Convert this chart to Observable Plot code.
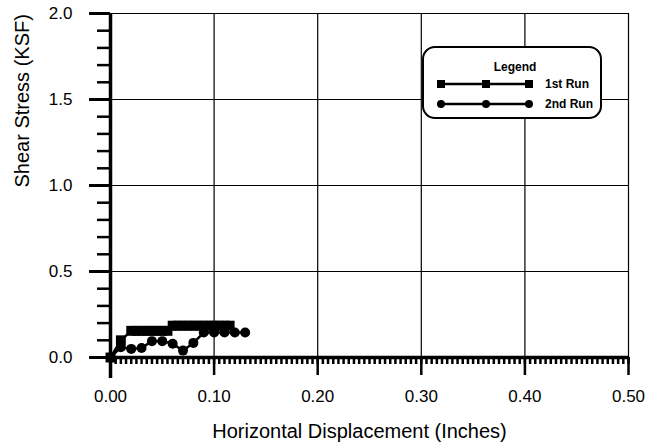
<!DOCTYPE html>
<html>
<head>
<meta charset="utf-8">
<script src="https://cdn.jsdelivr.net/npm/d3@7"></script>
<script src="https://cdn.jsdelivr.net/npm/@observablehq/plot@0.6"></script>
<style>
  html, body { margin: 0; padding: 0; background: #fff; }
  #wrap { position: relative; width: 646px; height: 447px; font-family: "Liberation Sans", Arial, sans-serif; }
  #legend { position: absolute; left: 422px; top: 46px; width: 176px; height: 69px;
            border: 2.5px solid #000; border-radius: 13px; background: #fff; box-sizing: content-box; }
</style>
</head>
<body>
<div id="wrap"><div id="legend"></div></div>
<script>
// Series: 1st Run (squares)
const run1X = [0, 0.01, 0.02, 0.025, 0.03, 0.035, 0.04, 0.045, 0.05, 0.055,
               0.06, 0.065, 0.07, 0.075, 0.08, 0.085, 0.09, 0.095, 0.10, 0.105, 0.11, 0.115];
const run1Y = [0, 0.10, 0.155, 0.155, 0.155, 0.155, 0.155, 0.155, 0.155, 0.155,
               0.185, 0.185, 0.185, 0.185, 0.185, 0.185, 0.185, 0.185, 0.185, 0.185, 0.185, 0.185];
// Series: 2nd Run (circles)
const run2X = [0, 0.01, 0.02, 0.03, 0.04, 0.05, 0.06, 0.07, 0.08, 0.09, 0.10, 0.11, 0.12, 0.13];
const run2Y = [0, 0.06, 0.05, 0.055, 0.095, 0.095, 0.08, 0.04, 0.085, 0.145, 0.145, 0.145, 0.145, 0.145];

const seriesNames = ["1st Run", "2nd Run"];
const xMajor = [0, 0.1, 0.2, 0.3, 0.4, 0.5];
const xMinor = d3.range(0, 101).map(i => i * 0.005);
const yMajor = [0, 0.5, 1.0, 1.5, 2.0];
const yMinor = d3.range(0, 21).map(i => i * 0.1);
const xTitle = "Horizontal Displacement (Inches)";
const yTitle = "Shear Stress (KSF)";
const legendTitle = "Legend";

const run1 = run1X.map((x, i) => ({x, y: run1Y[i]}));
const run2 = run2X.map((x, i) => ({x, y: run2Y[i]}));

const chart = Plot.plot({
  width: 646,
  height: 447,
  marginLeft: 110,
  marginRight: 18,
  marginTop: 13,
  marginBottom: 90,
  style: {fontFamily: "'Liberation Sans', Arial, sans-serif", color: "#000", background: "#fff"},
  x: {domain: [0, 0.5]},
  y: {domain: [0, 2]},
  marks: [
    Plot.gridX(xMajor.slice(1), {stroke: "#000", strokeOpacity: 1, strokeWidth: 1.2}),
    Plot.gridY(yMajor.slice(1), {stroke: "#000", strokeOpacity: 1, strokeWidth: 1.2}),
    Plot.axisY(yMinor, {tickSize: 13, text: null, strokeWidth: 2.5, label: null}),
    Plot.axisY(yMajor, {tickSize: 21, tickPadding: 17, fontSize: 17, tickFormat: d3.format(".1f"), strokeWidth: 3, label: null}),
    Plot.axisX(xMinor, {tickSize: 7, text: null, strokeWidth: 2.5, label: null}),
    Plot.axisX(xMajor, {tickSize: 18, tickPadding: 14, fontSize: 17, tickFormat: d3.format(".2f"), strokeWidth: 2.5, label: null}),
    Plot.ruleX([0], {insetBottom: -21, strokeWidth: 3.5}),
    Plot.ruleY([0], {strokeWidth: 3.5}),
    Plot.line(run1, {x: "x", y: "y", stroke: "#000", strokeWidth: 2.5}),
    Plot.dot(run1, {x: "x", y: "y", symbol: "square", r: 5.6, fill: "#000", stroke: null}),
    Plot.line(run2, {x: "x", y: "y", stroke: "#000", strokeWidth: 2.5}),
    Plot.dot(run2, {x: "x", y: "y", symbol: "circle", r: 5, fill: "#000", stroke: null}),
    Plot.text([xTitle], {frameAnchor: "bottom", dy: 80, dx: -10, fontSize: 20, fill: "#000"}),
    Plot.text([yTitle], {frameAnchor: "left", rotate: -90, dx: -88, dy: 2, fontSize: 20, fill: "#000"})
  ]
});
const wrap = document.getElementById("wrap");
wrap.insertBefore(chart, wrap.firstChild);

// Legend (overlaid on the plot area)
const lg = d3.select("#legend").append("svg").attr("width", 176).attr("height", 69)
  .style("font-family", "'Liberation Sans', Arial, sans-serif");
lg.append("text").attr("x", 91).attr("y", 23).attr("text-anchor", "middle")
  .attr("font-size", 12).attr("font-weight", "bold").text(legendTitle);
seriesNames.forEach((name, i) => {
  const yy = 36 + i * 20;
  lg.append("line").attr("x1", 15).attr("x2", 106).attr("y1", yy).attr("y2", yy)
    .attr("stroke", "#000").attr("stroke-width", 2.5);
  [17, 62, 105].forEach(cx => {
    if (i === 0) lg.append("rect").attr("x", cx - 4).attr("y", yy - 4).attr("width", 8).attr("height", 8).attr("fill", "#000");
    else lg.append("circle").attr("cx", cx).attr("cy", yy).attr("r", 4).attr("fill", "#000");
  });
  lg.append("text").attr("x", 121).attr("y", yy + 4).attr("font-size", 12).attr("font-weight", "bold").text(name);
});
</script>
</body>
</html>
